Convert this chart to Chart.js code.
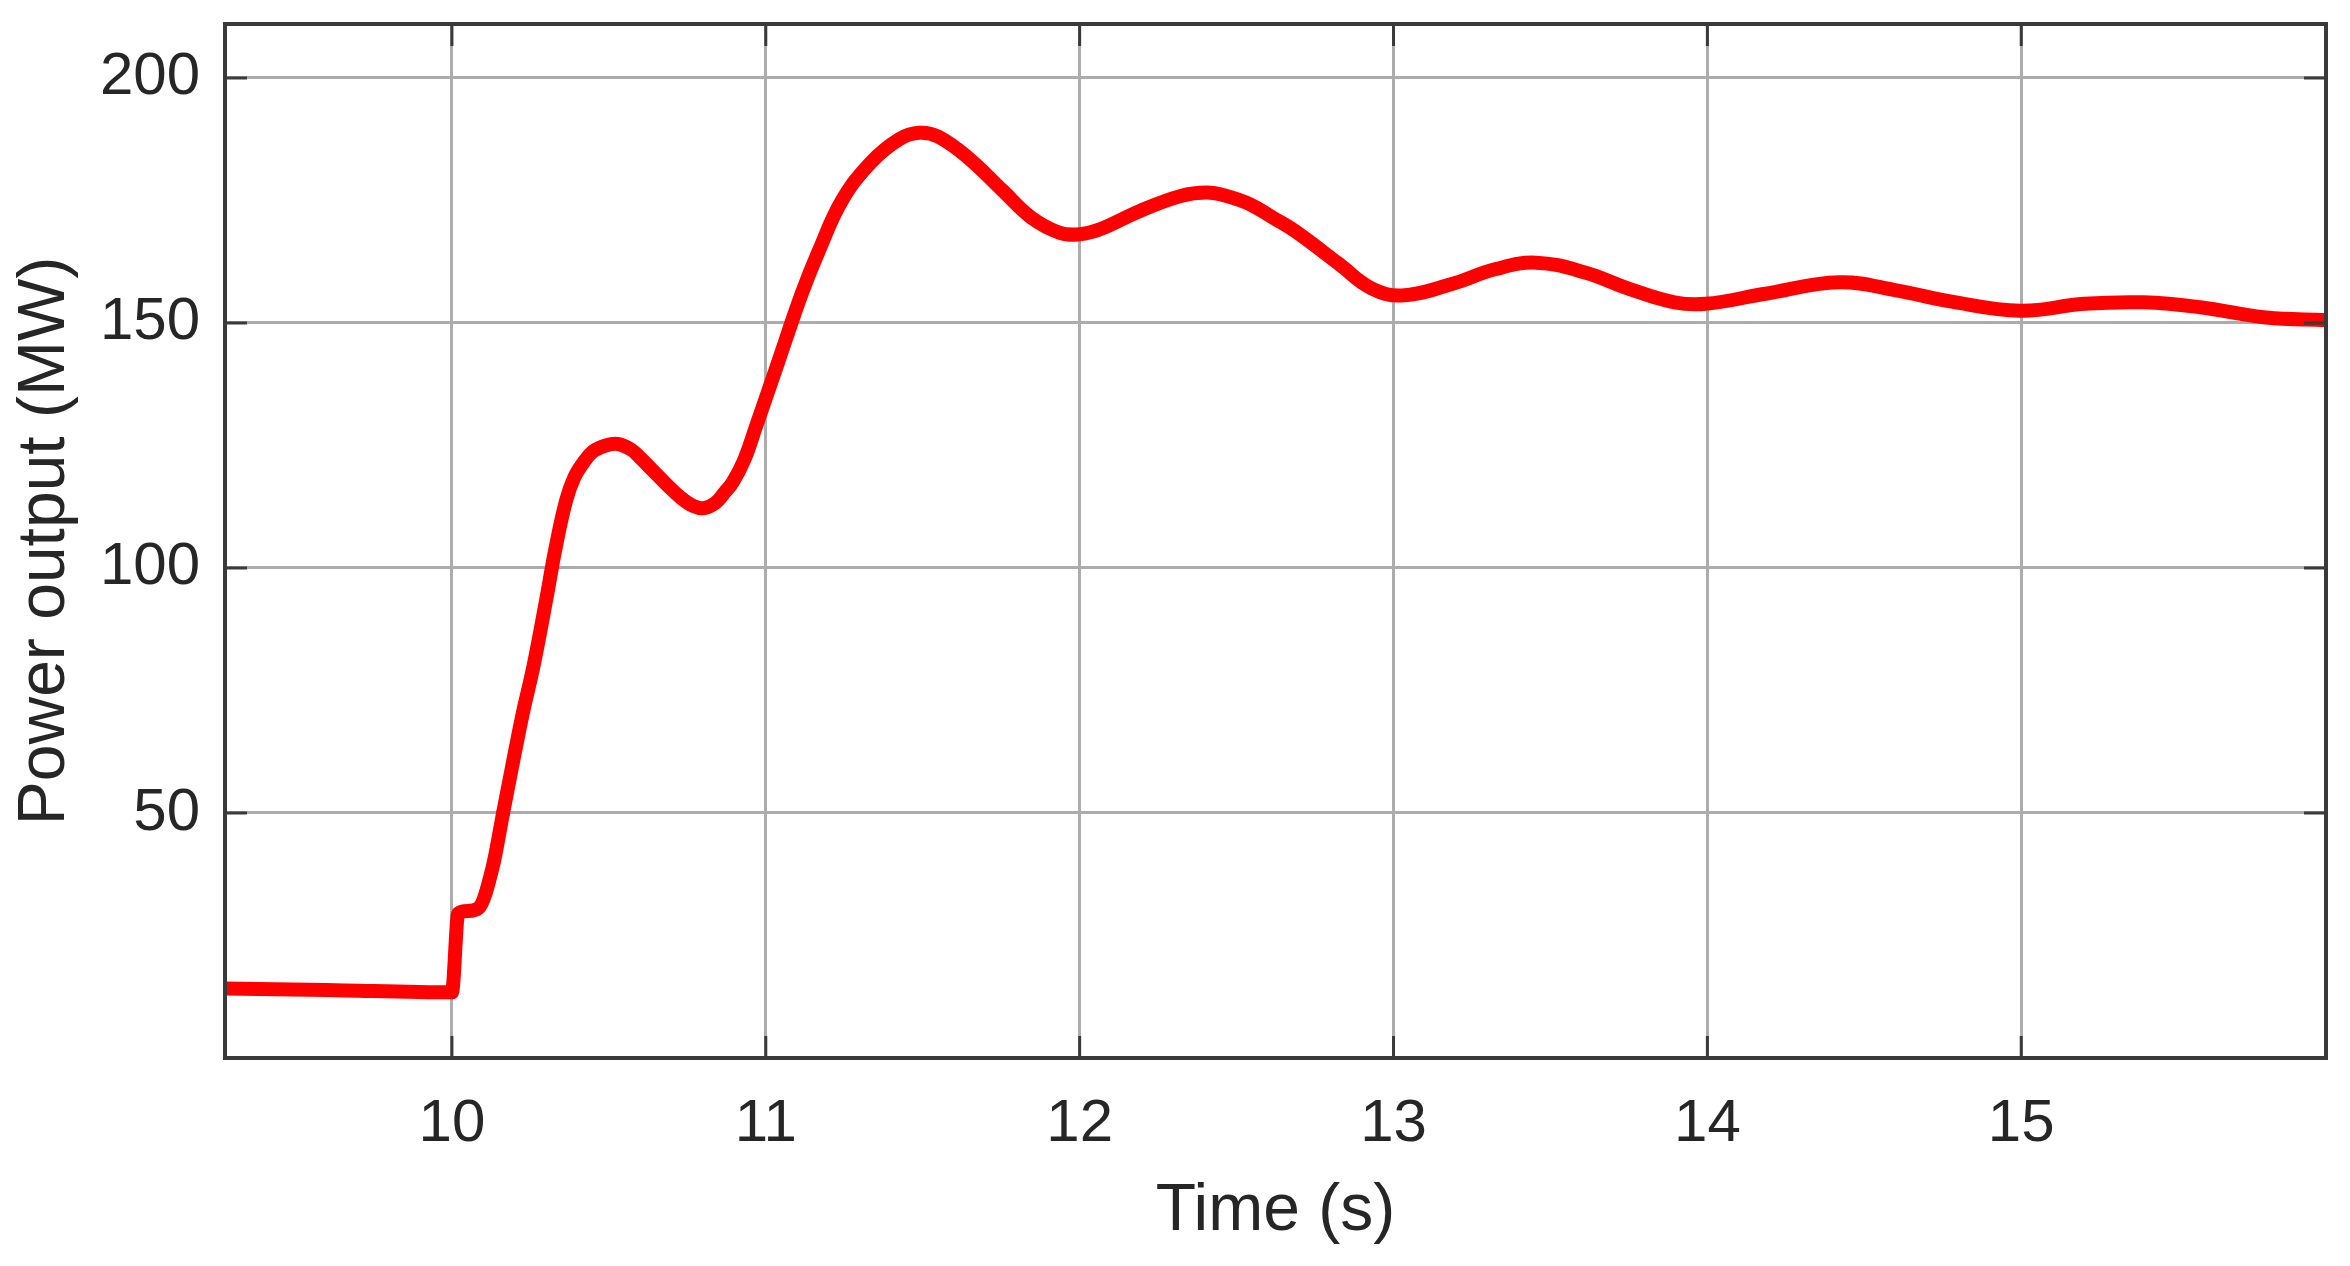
<!DOCTYPE html>
<html>
<head>
<meta charset="utf-8">
<script src="https://cdn.jsdelivr.net/npm/chart.js@4.4.1/dist/chart.umd.min.js"></script>
<style>
  html, body { margin: 0; padding: 0; background: #ffffff; }
  #wrap { width: 2350px; height: 1266px; }
</style>
</head>
<body>
<div id="wrap"><canvas id="powerChart" width="2350" height="1266"></canvas></div>
<script>
// time axis (s) and generator power output (MW)
const timeS = [
  9.277, 9.6, 10.0, 10.02, 10.05, 10.085, 10.13, 10.163, 10.194, 10.226,
  10.26, 10.30, 10.33, 10.364, 10.39, 10.419, 10.45, 10.49, 10.528, 10.57,
  10.60, 10.638, 10.68, 10.73, 10.77, 10.803, 10.84, 10.87, 10.895, 10.931,
  10.968, 11.041, 11.114, 11.169, 11.242, 11.334, 11.425, 11.489, 11.55, 11.645,
  11.755, 11.846, 11.937, 12.0, 12.065, 12.194, 12.322, 12.404, 12.468, 12.543,
  12.615, 12.685, 12.827, 12.926, 13.027, 13.183, 13.326, 13.454, 13.61, 13.753,
  13.895, 13.995, 14.18, 14.421, 14.606, 14.774, 14.998, 15.2, 15.39, 15.57,
  15.78, 15.971
];
const powerMW = [
  14.2, 13.9, 13.4, 29.5, 30.0, 30.6, 39.0, 50.0, 60.2, 70.4,
  80.0, 93.4, 104.0, 113.8, 118.5, 121.5, 123.8, 125.0, 125.3, 124.2,
  122.5, 120.0, 117.3, 114.3, 112.6, 112.2, 113.3, 115.5, 117.5, 122.0,
  128.7, 142.3, 155.9, 164.7, 174.9, 182.7, 187.5, 188.8, 188.0, 183.7,
  177.0, 171.5, 168.4, 168.1, 169.1, 172.9, 175.9, 176.6, 175.9, 174.2,
  171.5, 168.8, 162.0, 157.2, 155.6, 157.9, 161.0, 162.3, 160.3, 156.9,
  154.2, 153.9, 155.9, 158.3, 156.6, 154.4, 152.5, 153.9, 154.2, 153.2,
  151.1, 150.6
];

const xTicks = [10, 11, 12, 13, 14, 15];
const yTicks = [50, 100, 150, 200];
const xLimits = [9.277, 15.971];
const yLimits = [0, 211];

const textColor = '#262626';

// MATLAB style box with inward tick marks
const axesBox = {
  id: 'axesBox',
  afterDatasetsDraw(chart) {
    const { ctx, chartArea: a, scales } = chart;
    const tickLen = 22;
    ctx.save();
    ctx.strokeStyle = '#3a3a3a';
    ctx.lineWidth = 3;
    ctx.beginPath();
    xTicks.forEach(v => {
      const px = scales.x.getPixelForValue(v);
      ctx.moveTo(px, a.bottom); ctx.lineTo(px, a.bottom - tickLen);
      ctx.moveTo(px, a.top); ctx.lineTo(px, a.top + tickLen);
    });
    yTicks.forEach(v => {
      const py = scales.y.getPixelForValue(v);
      ctx.moveTo(a.left, py); ctx.lineTo(a.left + tickLen, py);
      ctx.moveTo(a.right, py); ctx.lineTo(a.right - tickLen, py);
    });
    ctx.stroke();
    ctx.lineWidth = 4;
    ctx.strokeRect(a.left, a.top, a.right - a.left, a.bottom - a.top);
    ctx.restore();
  }
};

// step part is drawn stiff, the oscillation part as a smooth spline
const stepEnd = 7; // index of t = 10.163
const toPoints = (from, to) => timeS.slice(from, to).map((t, i) => ({ x: t, y: powerMW[from + i] }));

const lineStyle = {
  borderColor: '#ff0000',
  borderWidth: 14,
  pointRadius: 0,
  borderJoinStyle: 'round',
  borderCapStyle: 'round',
  clip: 0
};

new Chart(document.getElementById('powerChart'), {
  type: 'line',
  data: {
    datasets: [
      Object.assign({ label: 'Power output', data: toPoints(0, stepEnd + 1), cubicInterpolationMode: 'monotone' }, lineStyle),
      Object.assign({ label: 'Power output ', data: toPoints(stepEnd, timeS.length), tension: 0.4 }, lineStyle)
    ]
  },
  options: {
    responsive: false,
    devicePixelRatio: 1,
    animation: false,
    layout: { padding: { top: 24, right: 24, left: 0, bottom: 0 } },
    plugins: {
      legend: { display: false },
      tooltip: { enabled: false }
    },
    scales: {
      x: {
        type: 'linear',
        min: xLimits[0],
        max: xLimits[1],
        afterBuildTicks: scale => { scale.ticks = xTicks.map(v => ({ value: v })); },
        afterFit: scale => {
          scale.height = 208;
          scale.paddingLeft = 0;
          scale.paddingRight = 0;
        },
        grid: { color: '#acacac', lineWidth: 3, drawTicks: false },
        border: { display: false },
        ticks: {
          padding: 30,
          color: textColor,
          font: { family: 'Liberation Sans, Arial, sans-serif', size: 60 }
        },
        title: {
          display: true,
          text: 'Time (s)',
          color: textColor,
          padding: { top: 0, bottom: 15 },
          font: { family: 'Liberation Sans, Arial, sans-serif', size: 66 }
        }
      },
      y: {
        min: yLimits[0],
        max: yLimits[1],
        afterBuildTicks: scale => { scale.ticks = yTicks.map(v => ({ value: v })); },
        afterFit: scale => {
          scale.width = 225;
          scale.paddingTop = 0;
          scale.paddingBottom = 0;
        },
        grid: { color: '#acacac', lineWidth: 3, drawTicks: false },
        border: { display: false },
        ticks: {
          padding: 25,
          color: textColor,
          font: { family: 'Liberation Sans, Arial, sans-serif', size: 60 }
        },
        title: {
          display: true,
          text: 'Power output (MW)',
          color: textColor,
          padding: { top: 6, bottom: 0 },
          font: { family: 'Liberation Sans, Arial, sans-serif', size: 66 }
        }
      }
    }
  },
  plugins: [axesBox]
});
</script>
</body>
</html>
